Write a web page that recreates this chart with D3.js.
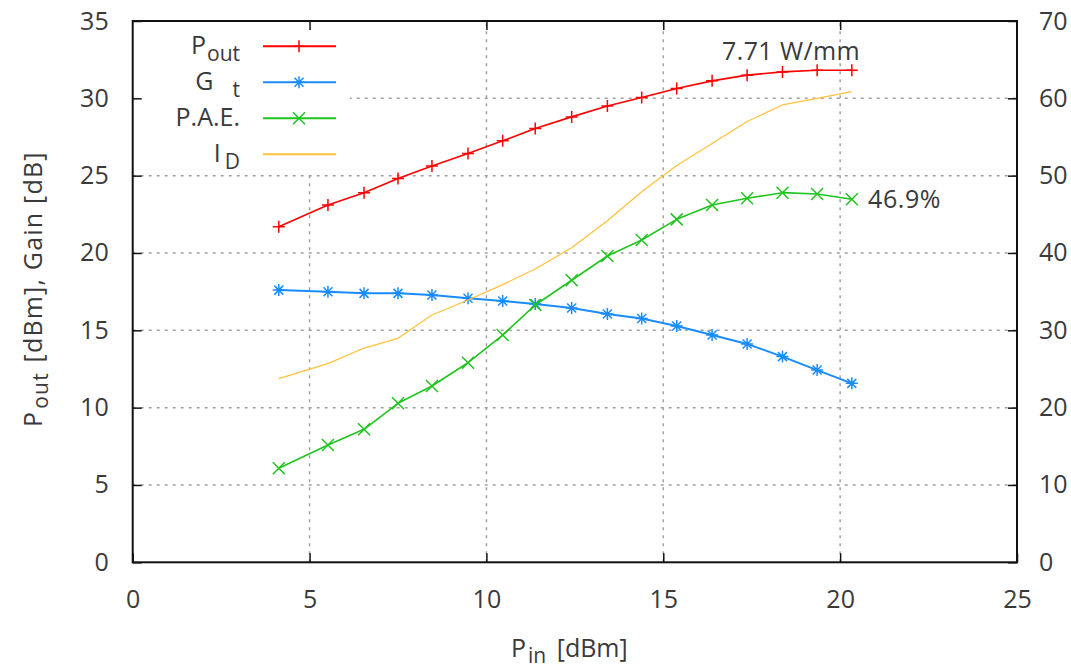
<!DOCTYPE html>
<html>
<head>
<meta charset="utf-8">
<script src="https://cdn.jsdelivr.net/npm/d3@7"></script>
<style>
  html, body { margin: 0; padding: 0; background: #fff; }
  svg { display: block; }
  text { font-family: "Open Sans", sans-serif; fill: #3a3a3a; }
</style>
</head>
<body>
<svg id="chart" width="1071" height="671"></svg>
<script>
// ---- data ----
const pin  = [4.13, 5.52, 6.54, 7.50, 8.46, 9.48, 10.46, 11.38, 12.41, 13.42, 14.39, 15.38, 16.38, 17.37, 18.37, 19.35, 20.33];
const pout = [21.69, 23.10, 23.89, 24.82, 25.62, 26.44, 27.25, 28.05, 28.80, 29.50, 30.06, 30.64, 31.13, 31.50, 31.71, 31.82, 31.82];
const gain = [17.60, 17.49, 17.39, 17.39, 17.28, 17.07, 16.89, 16.70, 16.44, 16.05, 15.77, 15.28, 14.70, 14.12, 13.30, 12.43, 11.57];
const pae  = [12.16, 15.17, 17.20, 20.56, 22.80, 25.81, 29.39, 33.27, 36.47, 39.61, 41.68, 44.35, 46.20, 47.07, 47.80, 47.63, 46.94];
const idc  = [23.74, 25.68, 27.71, 28.97, 31.98, 33.92, 35.90, 37.93, 40.68, 44.17, 47.92, 51.31, 54.16, 57.00, 59.14, 60.00, 60.86];

const xTicks  = [0, 5, 10, 15, 20, 25];
const yTicks  = [0, 5, 10, 15, 20, 25, 30, 35];
const y2Ticks = [0, 10, 20, 30, 40, 50, 60, 70];
const gridX = [5, 10, 15, 20];
const gridY = [5, 10, 15, 20, 25, 30];

const annotPout = "7.71 W/mm";
const annotPae  = "46.9%";

// ---- layout ----
const L = 132.7, R = 1017, T = 21, B = 562.3;
const FS = 25, FSS = 21;
const svg = d3.select("#chart");

const x  = d3.scaleLinear().domain([0, 25]).range([L, R]);
const y  = d3.scaleLinear().domain([0, 35]).range([B, T]);
const y2 = d3.scaleLinear().domain([0, 70]).range([B, T]);

const C = { pout: "#ff0000", gain: "#1a8cff", pae: "#1fc41f", id: "#ffc23c" };

// grid
const grid = svg.append("g").attr("stroke", "#a0a0a0").attr("stroke-width", 1.5).attr("stroke-dasharray", "3,5");
grid.selectAll(".gx").data(gridX).join("line")
  .attr("x1", d => x(d)).attr("x2", d => x(d)).attr("y1", B).attr("y2", T);
grid.selectAll(".gy").data(gridY).join("line")
  .attr("y1", d => y(d)).attr("y2", d => y(d)).attr("x1", L).attr("x2", R);

// legend background (covers grid)
svg.append("rect").attr("x", L + 1).attr("y", T + 1).attr("width", 350 - L - 1).attr("height", 171 - T - 1).attr("fill", "#fff");

// axes
function styleAxis(g) {
  g.select(".domain").remove();
  g.selectAll(".tick line").attr("stroke", "#111").attr("stroke-width", 1.5);
  g.selectAll(".tick text").style("font-family", "Open Sans").style("font-size", FS + "px").attr("fill", "#3a3a3a");
}
svg.append("g").attr("transform", `translate(${L},0)`)
  .call(d3.axisLeft(y).tickValues(yTicks).tickSize(-9).tickPadding(24).tickFormat(d3.format("d")))
  .call(styleAxis);
svg.append("g").attr("transform", `translate(${R},0)`)
  .call(d3.axisRight(y2).tickValues(y2Ticks).tickSize(-9).tickPadding(22).tickFormat(d3.format("d")))
  .call(styleAxis);
svg.append("g").attr("transform", `translate(0,${B})`)
  .call(d3.axisBottom(x).tickValues(xTicks).tickSize(-9).tickPadding(28).tickFormat(d3.format("d")))
  .call(styleAxis);
svg.append("g").attr("transform", `translate(0,${T})`)
  .call(d3.axisTop(x).tickValues(gridX).tickSize(-9).tickFormat(""))
  .call(styleAxis);

// border
svg.append("rect").attr("x", L).attr("y", T).attr("width", R - L).attr("height", B - T)
  .attr("fill", "none").attr("stroke", "#111").attr("stroke-width", 2);

// markers
const S = 6;
const mk = {
  plus: `M${-S},0H${S}M0,${-S}V${S}`,
  cross: `M${-S},${-S}L${S},${S}M${-S},${S}L${S},${-S}`,
  star: `M${-S},0H${S}M0,${-S}V${S}M-4.5,-4.5L4.5,4.5M-4.5,4.5L4.5,-4.5`
};

function series(vals, yScale, color, width, marker) {
  const pts = pin.map((p, i) => [x(p), yScale(vals[i])]);
  svg.append("path").attr("d", d3.line()(pts)).attr("fill", "none")
    .attr("stroke", color).attr("stroke-width", width).attr("stroke-linejoin", "round");
  if (marker) {
    svg.append("g").selectAll("path").data(pts).join("path")
      .attr("transform", d => `translate(${d[0]},${d[1]})`)
      .attr("d", mk[marker]).attr("fill", "none").attr("stroke", color).attr("stroke-width", 1.5);
  }
}
series(pout, y, C.pout, 1.6, "plus");
series(gain, y, C.gain, 2, "star");
series(pae, y2, C.pae, 1.6, "cross");
series(idc, y2, C.id, 1.3, null);

// legend
const legend = [
  { main: "P", sub: "out", color: C.pout, marker: "plus", dx: 1 },
  { main: "G", sub: "t", color: C.gain, marker: "star", dx: 19 },
  { main: "P.A.E.", sub: "", color: C.pae, marker: "cross", dx: 0 },
  { main: "I", sub: "D", color: C.id, marker: null, dx: 4 }
];
const rowY = [46.3, 82.3, 118.3, 154.3];
legend.forEach((d, i) => {
  const ry = rowY[i];
  const t = svg.append("text").attr("x", 240).attr("y", ry + 7.5).attr("text-anchor", "end").style("font-size", FS + "px");
  t.append("tspan").text(d.main);
  if (d.sub) t.append("tspan").attr("dy", 7.5).attr("dx", d.dx).style("font-size", FSS + "px").text(d.sub);
  svg.append("line").attr("x1", 263).attr("x2", 336).attr("y1", ry).attr("y2", ry)
    .attr("stroke", d.color).attr("stroke-width", 2);
  if (d.marker) svg.append("path").attr("transform", `translate(299,${ry})`).attr("d", mk[d.marker])
    .attr("fill", "none").attr("stroke", d.color).attr("stroke-width", 1.5);
});

// annotations
svg.append("text").attr("x", 722).attr("y", 60).style("font-size", FS + "px").style("letter-spacing", "0.4px").text(annotPout);
svg.append("text").attr("x", 868).attr("y", 208).style("font-size", FS + "px").style("letter-spacing", "0.6px").text(annotPae);

// axis titles
const xl = svg.append("text").attr("x", 511).attr("y", 657).style("font-size", FS + "px");
xl.append("tspan").text("P");
xl.append("tspan").attr("dx", 2).attr("dy", 6).style("font-size", FSS + "px").text("in");
xl.append("tspan").attr("dx", 4).attr("dy", -6).text(" [dBm]");

const yl = svg.append("text").attr("transform", "translate(42,427) rotate(-90)").style("font-size", FS + "px").style("letter-spacing", "1.2px");
yl.append("tspan").text("P");
yl.append("tspan").attr("dx", 2).attr("dy", 6).style("font-size", FSS + "px").text("out");
yl.append("tspan").attr("dx", 2).attr("dy", -6).text(" [dBm], Gain [dB]");
</script>
</body>
</html>
